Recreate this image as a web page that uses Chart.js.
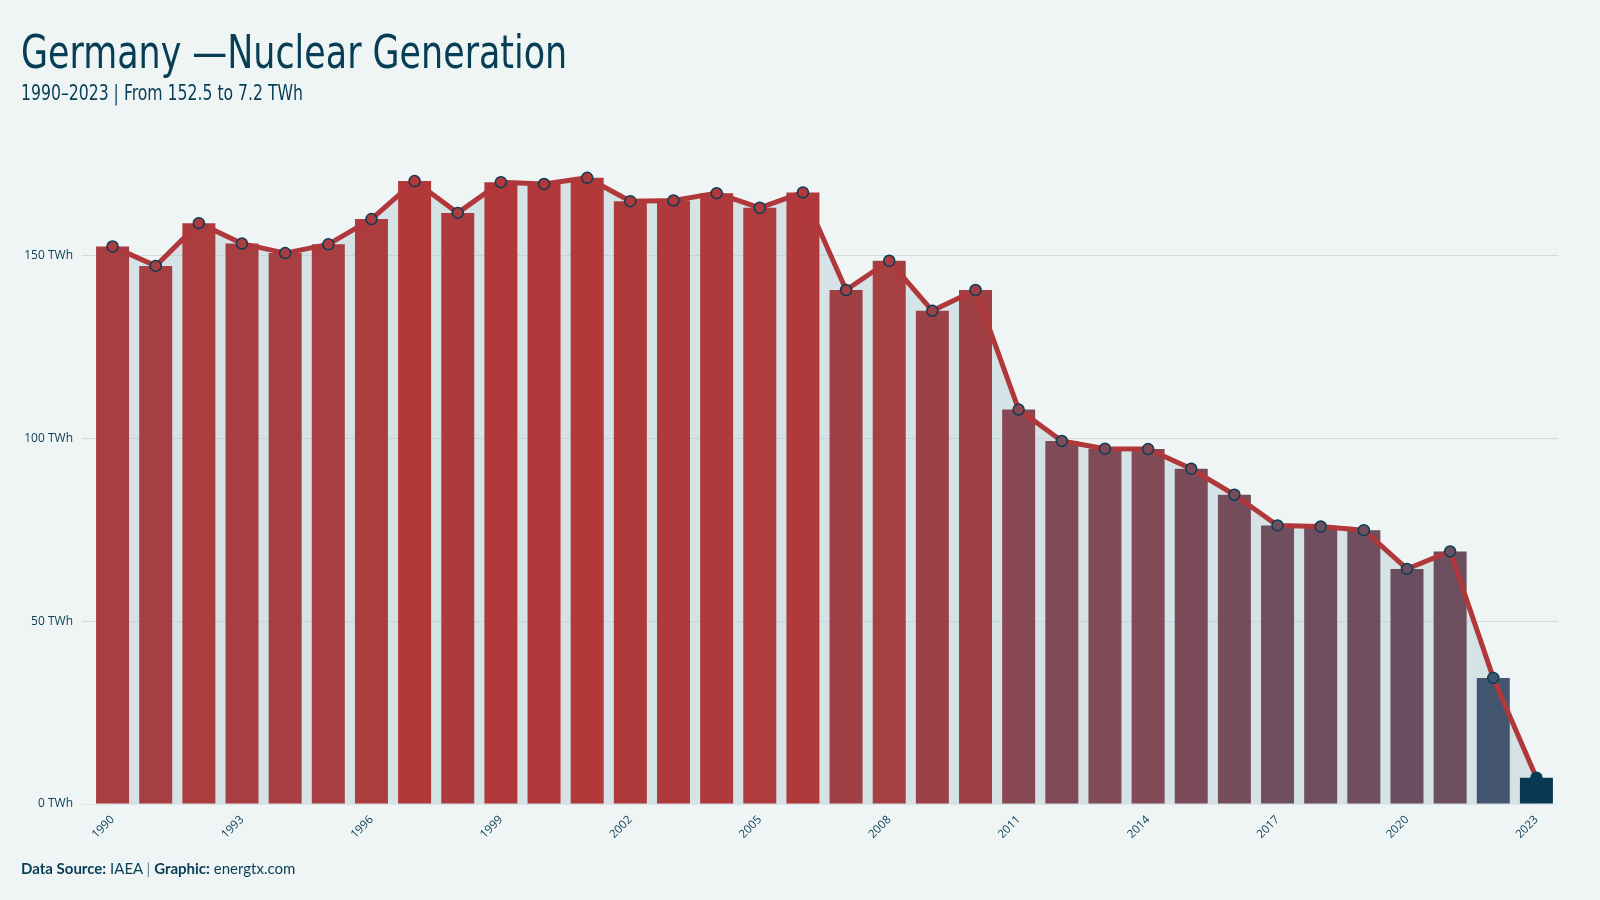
<!DOCTYPE html>
<html>
<head>
<meta charset="utf-8">
<script src="https://cdn.jsdelivr.net/npm/chart.js@4.4.1/dist/chart.umd.min.js"></script>
<style>
  html, body { margin: 0; padding: 0; background: #eff5f5; }
  body { width: 1600px; height: 900px; position: relative; overflow: hidden; }
  #wrap { position: absolute; left: 0; top: 0; width: 1600px; height: 900px; }
  .title { position: absolute; left: 21px; top: 28px; font-family: "DejaVu Sans Condensed", sans-serif; font-size: 47px; line-height: 47px; color: #083d56; white-space: nowrap; z-index: 2; transform: scaleX(0.825); transform-origin: 0 0; }
  .subtitle { position: absolute; left: 21px; top: 83px; font-family: "DejaVu Sans Condensed", sans-serif; font-size: 21px; line-height: 21px; color: #083d56; white-space: nowrap; z-index: 2; transform: scaleX(0.83); transform-origin: 0 0; }
  .footer { position: absolute; left: 21px; top: 861px; font-family: Lato, "Open Sans", sans-serif; font-size: 15px; line-height: 15px; color: #083d56; white-space: nowrap; z-index: 2; }
  .footer b { font-weight: 700; }
  .footer .sep { color: #6a8494; }
</style>
</head>
<body>
<div class="title">Germany —Nuclear Generation</div>
<div class="subtitle">1990–2023 | From 152.5 to 7.2 TWh</div>
<div class="footer"><b>Data Source:</b> IAEA <span class="sep">|</span> <b>Graphic:</b> energtx.com</div>
<div id="wrap"><canvas id="c" width="1600" height="900"></canvas></div>
<script>
// ---- data ----
const years = ['1990','1991','1992','1993','1994','1995','1996','1997','1998','1999',
               '2000','2001','2002','2003','2004','2005','2006','2007','2008','2009',
               '2010','2011','2012','2013','2014','2015','2016','2017','2018','2019',
               '2020','2021','2022','2023'];
const generationTWh = [152.5,147.2,158.9,153.3,150.7,153.1,160.0,170.4,161.7,170.1,
                       169.6,171.3,164.9,165.1,167.1,163.1,167.3,140.6,148.6,134.9,
                       140.6,107.9,99.3,97.2,97.1,91.7,84.6,76.2,75.9,74.9,
                       64.3,69.1,34.5,7.2];
const yTickValues = [0, 50, 100, 150];
const yUnit = 'TWh';
const xTickLabels = ['1990','1993','1996','1999','2002','2005','2008','2011','2014','2017','2020','2023'];

// ---- styles ----
const colorStops = [
  [7.2,  [7, 58, 82]],
  [34.5, [68, 86, 111]],
  [64,   [106, 78, 96]],
  [76,   [111, 78, 94]],
  [100,  [130, 74, 86]],
  [140,  [160, 64, 69]],
  [152,  [168, 62, 64]],
  [171.3,[178, 56, 58]]
];
function colorFor(v) {
  if (v <= colorStops[0][0]) return 'rgb(' + colorStops[0][1].join(',') + ')';
  for (let i = 1; i < colorStops.length; i++) {
    if (v <= colorStops[i][0]) {
      const [v0, c0] = colorStops[i-1], [v1, c1] = colorStops[i];
      const t = (v - v0) / (v1 - v0);
      const c = c0.map((a, k) => Math.round(a + (c1[k] - a) * t));
      return 'rgb(' + c.join(',') + ')';
    }
  }
  return 'rgb(' + colorStops[colorStops.length-1][1].join(',') + ')';
}
const barColors = generationTWh.map(colorFor);
const navy = '#083d56';

new Chart(document.getElementById('c'), {
  data: {
    labels: years,
    datasets: [
      {
        type: 'line',
        data: generationTWh,
        order: 1,
        borderColor: '#b0383a',
        borderWidth: 5,
        tension: 0,
        fill: 'origin',
        backgroundColor: 'rgba(171,196,208,0.38)',
        pointRadius: 5.5,
        pointBorderWidth: 1.5,
        pointBorderColor: navy,
        pointBackgroundColor: barColors,
        borderJoinStyle: 'round'
      },
      {
        type: 'bar',
        data: generationTWh,
        order: 2,
        backgroundColor: barColors,
        borderWidth: 0,
        categoryPercentage: 1,
        barPercentage: 0.765
      }
    ]
  },
  options: {
    responsive: false,
    animation: false,
    devicePixelRatio: 1,
    layout: { padding: { left: 0, right: 42, top: 146, bottom: 40 } },
    plugins: {
      legend: { display: false },
      tooltip: { enabled: false },
      filler: { drawTime: 'beforeDatasetsDraw' }
    },
    scales: {
      x: {
        offset: true,
        grid: { display: false, drawTicks: false },
        border: { display: false },
        ticks: {
          autoSkip: false,
          maxRotation: 45,
          minRotation: 45,
          padding: 9,
          color: navy,
          font: { family: 'Open Sans', size: 11.5 },
          callback: function(v, i) { const l = this.getLabelForValue(v); return xTickLabels.includes(l) ? l : ''; }
        },
        afterFit: s => { s.height = 56; }
      },
      y: {
        min: 0,
        max: 180,
        border: { display: false },
        grid: {
          color: ctx => ctx.tick && ctx.tick.value === 0 ? '#dde5e7' : '#d2dbde',
          lineWidth: 1,
          drawTicks: true,
          tickLength: 9
        },
        ticks: {
          padding: 9,
          color: navy,
          font: { family: 'Open Sans', size: 12 },
          callback: v => v + ' ' + yUnit
        },
        afterBuildTicks: s => { s.ticks = yTickValues.map(v => ({ value: v })); },
        afterFit: s => { s.width = 91; }
      }
    }
  }
});
</script>
</body>
</html>
